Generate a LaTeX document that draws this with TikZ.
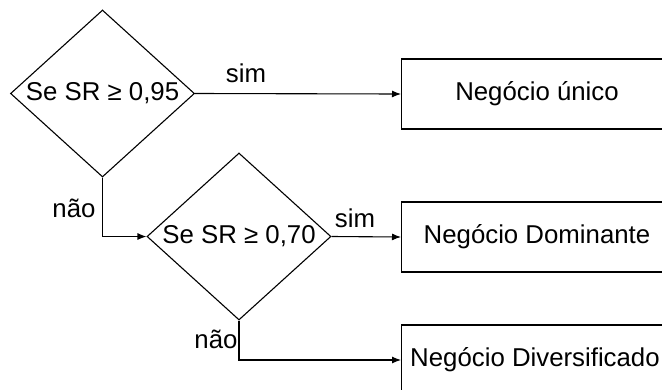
\documentclass[tikz,border=0pt]{standalone}
\usepackage{fontspec}
\setmainfont{Liberation Sans}
\usetikzlibrary{shapes.geometric,arrows.meta}
\begin{document}
\begin{tikzpicture}[x=1pt,y=-1pt,
  every node/.style={font=\fontsize{25.8}{30}\selectfont},
  decision/.style={diamond,draw,line width=1.1pt,inner sep=0pt,minimum width=184pt,minimum height=167pt},
  outcome/.style={rectangle,draw,line width=1.1pt,anchor=west,minimum width=272pt,minimum height=70pt,inner sep=0pt},
  flow/.style={line width=1.1pt,-{Latex[length=9pt,width=7pt]}},
  txt/.style={inner sep=0pt}]
\clip (0,0) rectangle (662,389);

% decisions
\node[decision] (d1) at (102.5,93.5) {};
\node[txt] (t1) at (d1.center) {Se SR ≥ 0,95};
\node[decision] (d2) at (239,236.5) {};
\node[txt] (t2) at (d2.center) {Se SR ≥ 0,70};

% outcomes
\node[outcome] (b1) at (401,94) {};
\node[txt] (u1) at (537,94) {Negócio único};
\node[outcome] (b2) at (401,237) {};
\node[txt] (u2) at (537,237) {Negócio Dominante};
\node[outcome] (b3) at (401,360) {};
\node[txt] (u3) at (535,360) {Negócio Diversificado};

% connectors
\draw[flow] (d1.east) -- (b1.west);
\draw[flow] (d1.south) |- (d2.west);
\draw[flow] (d2.east) -- (b2.west);
\draw[flow] (d2.south) |- (b3.west);

% branch labels
\node[txt] (s1) at (246,73) {sim};
\node[txt] (n1) at (74,208) {não};
\node[txt] (s2) at (355,218) {sim};
\node[txt] (n2) at (216,339) {não};
\end{tikzpicture}
\end{document}
